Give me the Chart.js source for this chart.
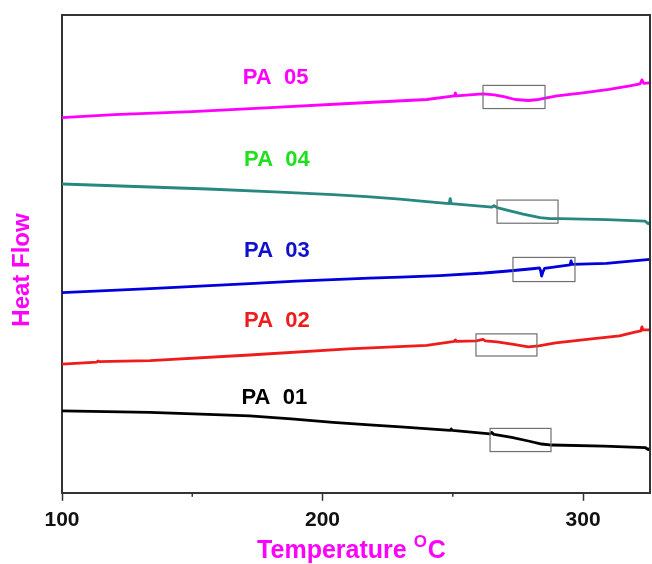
<!DOCTYPE html>
<html>
<head>
<meta charset="utf-8">
<script src="https://cdn.jsdelivr.net/npm/chart.js@4/dist/chart.umd.min.js"></script>
<style>
  html, body { margin: 0; padding: 0; background: #fff; }
  #wrap { width: 652px; height: 564px; }
</style>
</head>
<body>
<div id="wrap"><canvas id="chartDSC" width="652" height="564"></canvas></div>
<script>
// DSC curves, heat flow in arbitrary units (traces are offset vertically)
const tPA05 = [100, 120, 150, 180, 210, 240, 250.6, 251, 251.4, 261.6, 266, 270, 274, 279, 283, 286, 290, 300, 310, 318, 321.9, 322.6, 323.3, 325.7];
const hPA05 = [373, 376, 379, 383, 387, 391, 394.5, 397.5, 394.5, 396.5, 395.5, 393.5, 391, 390, 391, 392.5, 394.5, 397.5, 401, 404.5, 406.5, 410.5, 407, 407.5];

const tPA04 = [100, 133.8, 156, 183.7, 204, 217, 229.7, 240, 248.6, 249, 249.4, 265, 265.8, 267, 270.8, 277, 283.5, 287.3, 291.2, 309.2, 323.8, 325, 325.7];
const hPA04 = [307, 304, 302, 299, 296.5, 294.5, 292, 289.5, 287.5, 292.5, 287.5, 284, 285.5, 283.5, 281, 277, 273.5, 272.5, 272.5, 271.5, 270, 267.5, 269];

const tPA03 = [100, 133.8, 172, 190, 204, 218, 230, 245, 262, 271.3, 281.5, 283.3, 283.7, 284.1, 284.5, 285.2, 295, 295.4, 295.8, 309, 325.7];
const hPA03 = [199, 203, 208, 210.5, 212, 213.5, 214.5, 216, 218.5, 220.5, 223, 223.5, 221, 215.5, 219, 223, 226.5, 230.5, 227, 228, 232];

const tPA02 = [100, 113.4, 113.8, 114.2, 133.8, 172, 210, 240, 250.6, 251, 251.4, 259, 261.6, 262.5, 267, 273.3, 279, 283, 289.5, 305, 314, 319.5, 322.2, 322.6, 323, 325.7];
const hPA02 = [128, 130, 131, 130.5, 131.5, 137, 143, 146.5, 150.5, 152, 150.5, 151, 152.5, 151, 150, 147.5, 145, 146, 149, 153.5, 156, 159.5, 161, 165, 162, 162];

const tPA01 = [100, 133.8, 156, 172, 188, 204, 218, 230, 249, 249.4, 249.8, 264.3, 265, 265.8, 272.6, 279, 284.1, 288, 308, 323.8, 325, 325.7];
const hPA01 = [81.5, 80, 78, 76.5, 73.5, 70, 67.5, 65.5, 62, 63.5, 62, 58.5, 60, 58, 55, 51.5, 48.5, 47.5, 46.5, 45, 43, 44];

const seriesNames = ['PA  05', 'PA  04', 'PA  03', 'PA  02', 'PA  01'];
const lineColors = ['#ff00ff', '#26887f', '#0000dd', '#ee1c1c', '#000000'];
const labelColors = ['#ff00ff', '#1ee01e', '#1010cc', '#ee1c1c', '#000000'];
// where each name sits (temperature, heat flow)
const labelT = [182, 182.5, 182.5, 182.5, 181.5];
const labelH = [412, 330.5, 240.5, 170.5, 94.5];
// highlighted transition windows [tMin, tMax, hMin, hMax]
const boxT0 = [261.6, 267, 273.1, 258.9, 264.3];
const boxT1 = [285.4, 290.4, 296.9, 282.3, 287.7];
const boxH0 = [382, 268, 210, 136, 41];
const boxH1 = [405, 291, 234, 158, 64];

const xTicks = [100, 150, 200, 250, 300];
const xLabels = [100, 200, 300];

function pts(ts, hs) {
  return ts.map((t, i) => ({ x: t, y: hs[i] }));
}
const curves = [pts(tPA05, hPA05), pts(tPA04, hPA04), pts(tPA03, hPA03), pts(tPA02, hPA02), pts(tPA01, hPA01)];

const decor = {
  id: 'decor',
  afterDatasetsDraw(chart) {
    const { ctx, chartArea: a, scales: { x, y } } = chart;
    ctx.save();
    // frame top + right
    ctx.strokeStyle = '#333';
    ctx.lineWidth = 2;
    ctx.beginPath();
    ctx.moveTo(a.left, a.top);
    ctx.lineTo(a.right, a.top);
    ctx.lineTo(a.right, a.bottom);
    ctx.stroke();
    // minor ticks
    ctx.lineWidth = 1.5;
    xTicks.forEach(v => {
      if (xLabels.includes(v)) return;
      const px = x.getPixelForValue(v);
      ctx.beginPath();
      ctx.moveTo(px, a.bottom);
      ctx.lineTo(px, a.bottom + 4);
      ctx.stroke();
    });
    // boxes
    ctx.strokeStyle = '#707070';
    ctx.lineWidth = 1.2;
    boxT0.forEach((t0, i) => {
      const x0 = x.getPixelForValue(t0), x1 = x.getPixelForValue(boxT1[i]);
      const y0 = y.getPixelForValue(boxH1[i]), y1 = y.getPixelForValue(boxH0[i]);
      ctx.strokeRect(x0, y0, x1 - x0, y1 - y0);
    });
    // series names
    ctx.font = 'bold 22px "Liberation Sans", Arial, sans-serif';
    ctx.textAlign = 'center';
    ctx.textBaseline = 'middle';
    seriesNames.forEach((n, i) => {
      ctx.fillStyle = labelColors[i];
      ctx.fillText(n, x.getPixelForValue(labelT[i]), y.getPixelForValue(labelH[i]));
    });
    ctx.restore();
  },
  afterDraw(chart) {
    const { ctx } = chart;
    ctx.save();
    ctx.fillStyle = '#ff00ff';
    ctx.textBaseline = 'alphabetic';
    // y title
    ctx.font = 'bold 24px "Liberation Sans", Arial, sans-serif';
    ctx.translate(29, 270);
    ctx.rotate(-Math.PI / 2);
    ctx.textAlign = 'center';
    ctx.fillText('Heat Flow', 0, 0);
    ctx.restore();
    // x title with raised O
    ctx.save();
    ctx.fillStyle = '#ff00ff';
    ctx.textAlign = 'left';
    ctx.font = 'bold 25px "Liberation Sans", Arial, sans-serif';
    const w1 = ctx.measureText('Temperature ').width;
    ctx.font = 'bold 17px "Liberation Sans", Arial, sans-serif';
    const w2 = ctx.measureText('O').width;
    ctx.font = 'bold 25px "Liberation Sans", Arial, sans-serif';
    const w3 = ctx.measureText('C').width;
    let sx = 351 - (w1 + w2 + w3) / 2;
    ctx.fillText('Temperature ', sx, 558);
    ctx.font = 'bold 17px "Liberation Sans", Arial, sans-serif';
    ctx.fillText('O', sx + w1, 547);
    ctx.font = 'bold 25px "Liberation Sans", Arial, sans-serif';
    ctx.fillText('C', sx + w1 + w2 + 1, 558);
    ctx.restore();
  }
};

new Chart(document.getElementById('chartDSC').getContext('2d'), {
  type: 'line',
  data: {
    datasets: curves.map((d, i) => ({
      label: seriesNames[i],
      data: d,
      borderColor: lineColors[i],
      borderWidth: 2.8,
      borderJoinStyle: 'round',
      borderCapStyle: 'round',
      pointRadius: 0,
      tension: 0,
      fill: false
    }))
  },
  options: {
    responsive: false,
    animation: false,
    layout: { padding: { left: 62, top: 15, right: 2, bottom: 24 } },
    plugins: { legend: { display: false }, tooltip: { enabled: false } },
    scales: {
      x: {
        type: 'linear',
        min: 100,
        max: 325.7,
        afterBuildTicks: s => { s.ticks = xTicks.map(v => ({ value: v })); },
        ticks: {
          autoSkip: false,
          maxRotation: 0,
          padding: 7,
          color: '#111',
          font: { family: '"Liberation Sans", Arial, sans-serif', size: 21, weight: 'bold' },
          callback: v => (xLabels.includes(v) ? String(v) : '')
        },
        grid: {
          drawOnChartArea: false,
          drawTicks: true,
          tickLength: 8,
          tickWidth: 1.5,
          tickColor: c => (xLabels.includes(c.tick && c.tick.value) ? '#333' : 'rgba(0,0,0,0)')
        },
        border: { display: true, color: '#333', width: 2 }
      },
      y: {
        type: 'linear',
        min: 0,
        max: 475,
        ticks: { display: false },
        grid: { display: false, drawTicks: false },
        border: { display: true, color: '#333', width: 2 }
      }
    }
  },
  plugins: [decor]
});
</script>
</body>
</html>
